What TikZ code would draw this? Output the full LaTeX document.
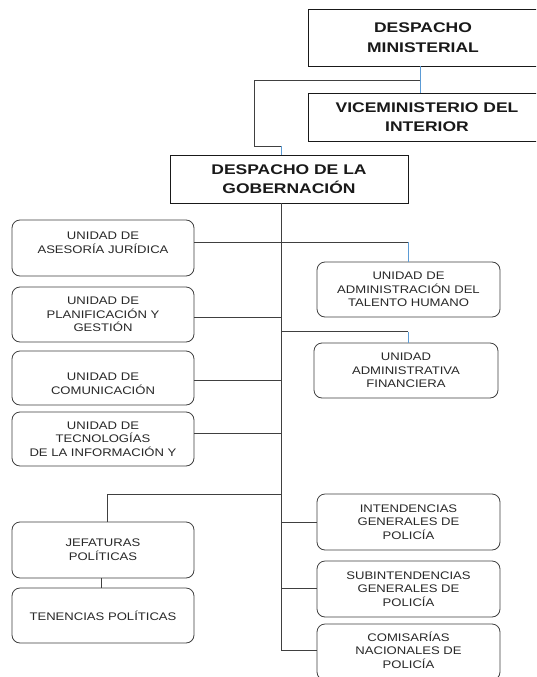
\documentclass[tikz,border=0pt]{standalone}
\usepackage{fontspec}
\setmainfont{Liberation Sans}
\newfontfamily\boxfont[FakeStretch=1.19]{Liberation Sans}
\newfontfamily\headfont[FakeStretch=1.25]{Liberation Sans}
\definecolor{blueline}{RGB}{91,155,213}
\definecolor{lineg}{RGB}{64,64,64}
\definecolor{txtg}{RGB}{40,40,40}
\begin{document}
\begin{tikzpicture}[x=1pt,y=-1pt,
  headbox/.style={draw=black!90, line width=0.9pt, inner sep=0pt},
  unitbox/.style={draw=lineg, line width=0.8pt, rounded corners=8pt, inner sep=0pt},
  utxt/.style={align=center, inner sep=0pt, font=\boxfont\fontsize{11}{13.7}\selectfont, text=txtg},
  htxt/.style={align=center, inner sep=0pt, font=\headfont\bfseries\fontsize{14}{19.5}\selectfont, text=black!90},
  conn/.style={draw=lineg, line width=0.9pt},
  bconn/.style={draw=blueline, line width=0.9pt}]
\useasboundingbox (0,0) rectangle (536,677);
\clip (0,0) rectangle (536,677);
\fill[white] (0,0) rectangle (536,677);

% head boxes
\node[headbox, minimum width=230pt, minimum height=57pt] (dm) at (423,37.5) {};
\node[htxt] (dmt) at (423,37.5) {DESPACHO\\MINISTERIAL};
\node[headbox, minimum width=238pt, minimum height=48pt] (vice) at (427,117) {};
\node[htxt] (vicet) at (427,117) {VICEMINISTERIO DEL\\INTERIOR};
\node[headbox, minimum width=238pt, minimum height=48pt] (gob) at (289,179) {};
\node[htxt] (gobt) at (289,179) {DESPACHO DE LA\\GOBERNACIÓN};

% left column
\node[unitbox, minimum width=182pt, minimum height=56pt] (ase) at (103,248) {};
\node[utxt, yshift=5pt] (aset) at (ase.center) {UNIDAD DE\\ASESORÍA JURÍDICA};
\node[unitbox, minimum width=182pt, minimum height=55pt] (pla) at (103,314.5) {};
\node[utxt] (plat) at (pla.center) {UNIDAD DE\\PLANIFICACIÓN Y\\GESTIÓN};
\node[unitbox, minimum width=182pt, minimum height=54pt] (com) at (103,378) {};
\node[utxt, yshift=-6pt] (comt) at (com.center) {UNIDAD DE\\COMUNICACIÓN};
\node[unitbox, minimum width=182pt, minimum height=54pt] (tec) at (103,439) {};
\node[utxt] (tect) at (tec.center) {UNIDAD DE\\TECNOLOGÍAS\\DE LA INFORMACIÓN Y};
\node[unitbox, minimum width=182pt, minimum height=56pt] (jef) at (103,550) {};
\node[utxt] (jeft) at (jef.center) {JEFATURAS\\POLÍTICAS};
\node[unitbox, minimum width=182pt, minimum height=55pt] (ten) at (103,615.5) {};
\node[utxt] (tent) at (ten.center) {TENENCIAS POLÍTICAS};

% right column
\node[unitbox, minimum width=183pt, minimum height=55pt] (tal) at (408.5,289.5) {};
\node[utxt] (talt) at (tal.center) {UNIDAD DE\\ADMINISTRACIÓN DEL\\TALENTO HUMANO};
\node[unitbox, minimum width=184pt, minimum height=55pt] (fin) at (406,370.5) {};
\node[utxt] (fint) at (fin.center) {UNIDAD\\ADMINISTRATIVA\\FINANCIERA};
\node[unitbox, minimum width=183pt, minimum height=56pt] (int) at (408.5,522) {};
\node[utxt] (intt) at (int.center) {INTENDENCIAS\\GENERALES DE\\POLICÍA};
\node[unitbox, minimum width=183pt, minimum height=56pt] (sub) at (408.5,589) {};
\node[utxt] (subt) at (sub.center) {SUBINTENDENCIAS\\GENERALES DE\\POLICÍA};
\node[unitbox, minimum width=183pt, minimum height=56pt] (cmn) at (408.5,652) {};
\node[utxt, yshift=2pt] (cmnt) at (cmn.center) {COMISARÍAS\\NACIONALES DE\\POLICÍA};

% coordinates
\coordinate (vx) at (420,0);
\coordinate (h1) at (420,80);
\coordinate (h2) at (254,80);
\coordinate (h3) at (254,146);
\coordinate (h4) at (281,146);
\coordinate (tk) at (281,0);
\coordinate (tend) at (281,650);
\coordinate (aseb) at (408.5,242.3);
\coordinate (tpla) at (281,317);
\coordinate (tfin) at (281,331.7);
\coordinate (finb) at (408,331.7);
\coordinate (tcom) at (281,380);
\coordinate (ttec) at (281,433.3);
\coordinate (tjef) at (281,494);
\coordinate (jefb) at (107,494);
\coordinate (jt) at (101,0);
\coordinate (tint) at (281,522);
\coordinate (tsub) at (281,588);

% top connectors
\draw[bconn] (dm.south -| vx) -- (vice.north -| vx);
\draw[conn] (h1) -- (h2) -- (h3) -- (h4);
\draw[bconn] (h4) -- (gob.north -| tk);

% trunk
\draw[conn] (gob.south -| tk) -- (tend);

% branches
\draw[conn] (ase.east |- aseb) -- (aseb);
\draw[bconn] (aseb) -- (tal.north);
\draw[conn] (pla.east |- tpla) -- (tpla);
\draw[conn] (tfin) -- (finb);
\draw[bconn] (finb) -- (fin.north -| finb);
\draw[conn] (com.east |- tcom) -- (tcom);
\draw[conn] (tec.east |- ttec) -- (ttec);
\draw[conn] (tjef) -- (jefb) -- (jef.north -| jefb);
\draw[conn] (jef.south -| jt) -- (ten.north -| jt);
\draw[conn] (tint) -- (int.west |- tint);
\draw[conn] (tsub) -- (sub.west |- tsub);
\draw[conn] (tend) -- (cmn.west |- tend);
\end{tikzpicture}
\end{document}
